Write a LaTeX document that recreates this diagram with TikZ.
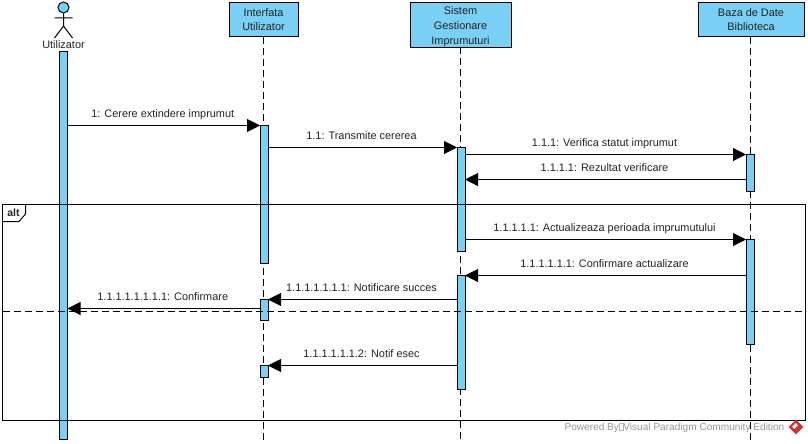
\documentclass[tikz,border=0pt]{standalone}
\usepackage{fontspec}
\setmainfont{Liberation Sans}
\usetikzlibrary{arrows.meta, positioning, shapes.geometric}
\definecolor{lifeblue}{RGB}{122, 207, 245}
\definecolor{msgtext}{RGB}{35, 35, 35}
\definecolor{markgrey}{RGB}{150, 150, 150}
\definecolor{markred}{RGB}{200, 55, 50}
\tikzset{
	headbox/.style={draw, fill=lifeblue, line width=1pt, align=center, inner sep=0pt, outer sep=0pt, anchor=north, text=msgtext, font=\fontsize{10.9}{15}\selectfont},
	actbar/.style={draw, fill=lifeblue, line width=1pt, minimum width=8pt, inner sep=0pt, outer sep=0pt, anchor=north},
	lifeline/.style={line width=1pt, dash pattern=on 7pt off 4pt},
	msg/.style={line width=1pt, -{Triangle[length=13pt, width=13pt]}},
	msglabel/.style={midway, above=5.3pt, xshift=-1pt, inner sep=0pt, text height=8pt, text depth=2.5pt, text=msgtext, font=\fontsize{10.9}{12}\selectfont}
}
\begin{document}
\begin{tikzpicture}[line cap=butt, line join=miter, x=1pt, y=-1pt]
	\useasboundingbox (0,0) rectangle (808,444);
	% lifeline heads
	\node[headbox, minimum width=69pt, minimum height=34pt] (ui) at (263.5,3) {Interfata\\[-1pt]Utilizator};
	\node[headbox, minimum width=101pt, minimum height=44pt] (sys) at (460.5,3) {\rule{0pt}{12pt}Sistem\\Gestionare\\Imprumuturi};
	\node[headbox, minimum width=106pt, minimum height=34pt] (db) at (751,3) {Baza de Date\\[-1pt]Biblioteca};

	% actor
	\node[draw, circle, fill=lifeblue, line width=1pt, minimum size=11pt, inner sep=0pt] (head) at (63.5,7.5) {};
	\coordinate (hip) at (63.5,26);
	\coordinate (armL) at (54.5,18);
	\coordinate (armR) at (72.5,18);
	\coordinate (footL) at (54.5,38);
	\coordinate (footR) at (72.5,38);
	\draw[line width=1pt] (head) -- (hip) (armL) -- (armR) (footL) -- (hip) -- (footR);
	\node[inner sep=0pt, text=msgtext, font=\fontsize{10.9}{12}\selectfont] (actor) at (63.5,45) {Utilizator};

	% end points of the dashed lines
	\coordinate (uiend) at (263.5,441);
	\coordinate (sysend) at (460.5,441);
	\coordinate (dbend) at (750.5,441);
	\draw[lifeline] (ui.south) -- (uiend);
	\draw[lifeline] (sys.south) -- (sysend);
	\draw[lifeline] (db.south -| dbend) -- (dbend);

	% activation bars
	\node[actbar, minimum height=387pt] (actorbar) at (63.5,52) {};
	\node[actbar, minimum height=138pt] (uibarA) at (264,125) {};
	\node[actbar, minimum height=21pt] (uibarB) at (264,299) {};
	\node[actbar, minimum height=12pt] (uibarC) at (264,365) {};
	\node[actbar, minimum height=104pt] (sysbarA) at (461,147) {};
	\node[actbar, minimum height=114pt] (sysbarB) at (461,275) {};
	\node[actbar, minimum height=37pt] (dbbarA) at (750,154) {};
	\node[actbar, minimum height=105pt] (dbbarB) at (750,239) {};

	% alt frame
	\coordinate (frameTL) at (2.5,204.5);
	\coordinate (frameBR) at (805.5,420.5);
	\coordinate (tagA) at (25.5,204.5);
	\coordinate (tagB) at (25.5,214);
	\coordinate (tagC) at (19,221.5);
	\coordinate (tagD) at (2.5,221.5);
	\coordinate (splitL) at (2.5,311.5);
	\coordinate (splitR) at (805.5,311.5);
	\draw[line width=1pt] (frameTL) rectangle (frameBR);
	\draw[line width=1pt] (tagA) -- (tagB) -- (tagC) -- (tagD);
	\draw[lifeline] (splitL) -- (splitR);
	\node[inner sep=0pt, text=msgtext, font=\fontsize{10.5}{12}\selectfont\bfseries] (alt) at (13.5,212.5) {alt};

	% messages
	\coordinate (m1) at (0,125.5);
	\coordinate (m2) at (0,147.5);
	\coordinate (m3) at (0,154.5);
	\coordinate (m4) at (0,179.5);
	\coordinate (m5) at (0,239.5);
	\coordinate (m6) at (0,275.5);
	\coordinate (m7) at (0,299.5);
	\coordinate (m8) at (0,308.5);
	\coordinate (m9) at (0,365.5);
	\draw[msg] (actorbar.east |- m1) -- (uibarA.west |- m1) node[msglabel] {1: Cerere extindere imprumut};
	\draw[msg] (uibarA.east |- m2) -- (sysbarA.west |- m2) node[msglabel] {1.1: Transmite cererea};
	\draw[msg] (sysbarA.east |- m3) -- (dbbarA.west |- m3) node[msglabel] {1.1.1: Verifica statut imprumut};
	\draw[msg] (dbbarA.west |- m4) -- (sysbarA.east |- m4) node[msglabel] {1.1.1.1: Rezultat verificare};
	\draw[msg] (sysbarA.east |- m5) -- (dbbarB.west |- m5) node[msglabel] {1.1.1.1.1: Actualizeaza perioada imprumutului};
	\draw[msg] (dbbarB.west |- m6) -- (sysbarB.east |- m6) node[msglabel] {1.1.1.1.1.1: Confirmare actualizare};
	\draw[msg] (sysbarB.west |- m7) -- (uibarB.east |- m7) node[msglabel] {1.1.1.1.1.1.1: Notificare succes};
	\draw[msg] (uibarB.west |- m8) -- (actorbar.east |- m8) node[msglabel] {1.1.1.1.1.1.1.1: Confirmare};
	\draw[msg] (sysbarB.west |- m9) -- (uibarC.east |- m9) node[msglabel] {1.1.1.1.1.1.2: Notif esec};

	% watermark
	\node[anchor=east, inner sep=0pt, text=markgrey, font=\fontsize{10.1}{12}\selectfont] (powered) at (784.5,427.5) {Powered By\raisebox{0.5pt}{\tikz\draw[line width=0.4pt, markgrey!70] (0,0) rectangle (4pt,7pt);}Visual Paradigm Community Edition};
	\node[diamond, aspect=1, fill=markred, minimum size=15pt, inner sep=0pt] (logo) at (796,427) {};
	\node[rectangle, rotate=45, fill=white, minimum width=5pt, minimum height=3pt, inner sep=0pt] (logomark) at (795,426) {};
\end{tikzpicture}
\end{document}
